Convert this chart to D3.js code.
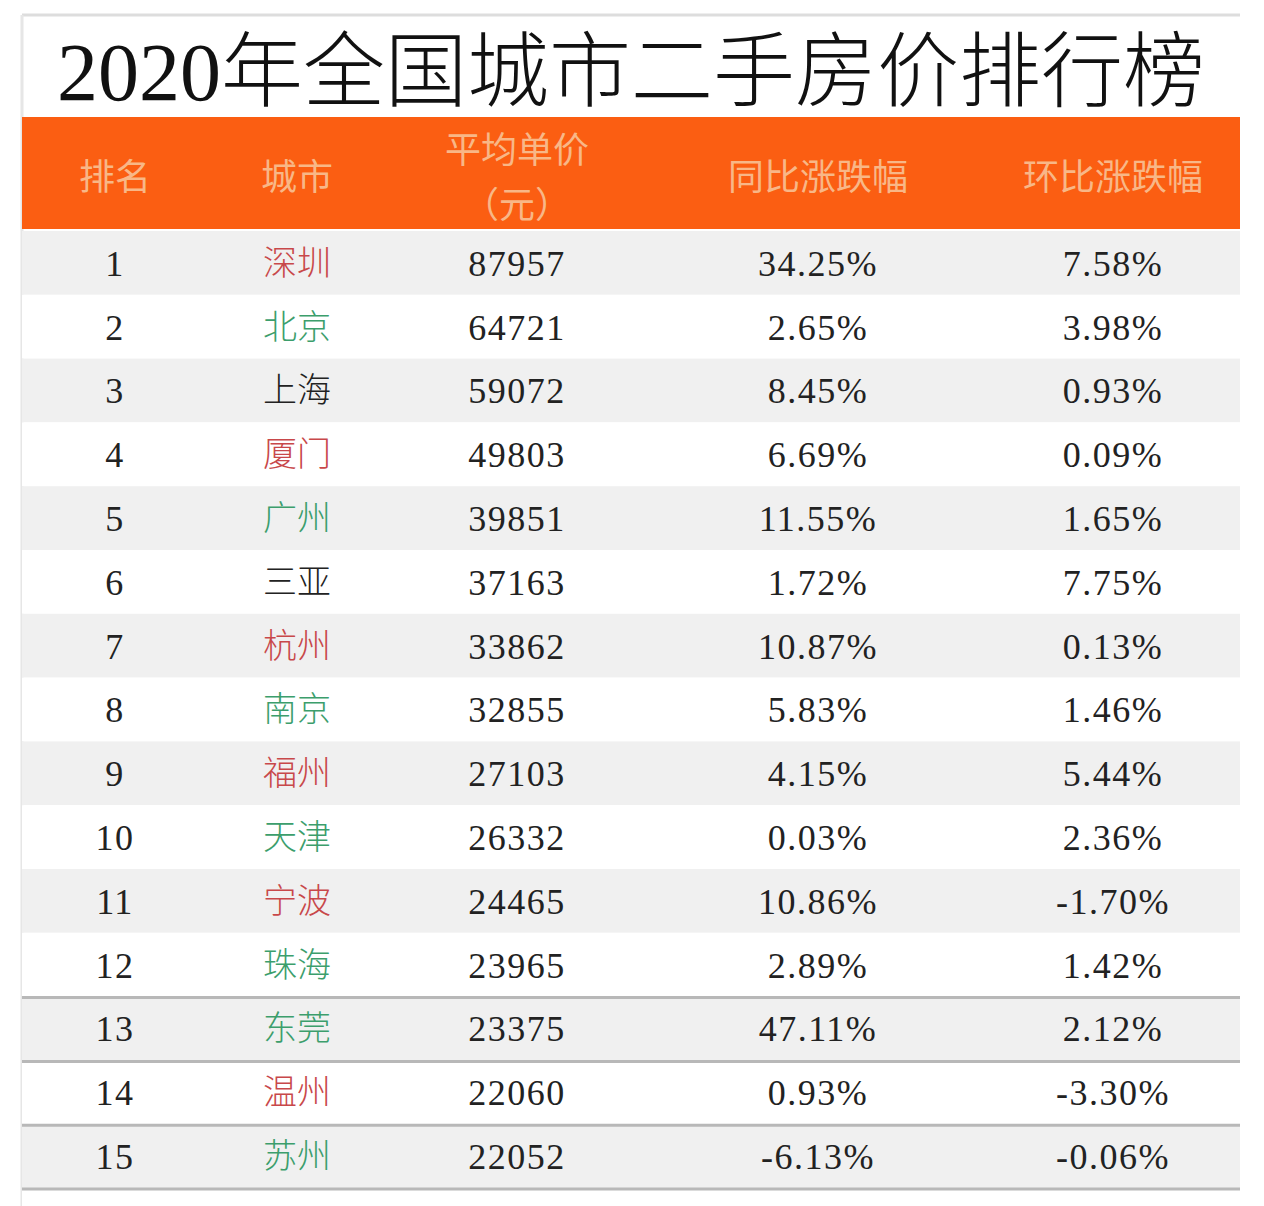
<!DOCTYPE html>
<html><head><meta charset="utf-8">
<script src="https://cdn.jsdelivr.net/npm/d3@7"></script>
<style>body{margin:0;background:#fff}</style>
</head><body>
<div id="chart"></div>
<script>
// Table data
var ranks = [1,2,3,4,5,6,7,8,9,10,11,12,13,14,15];
var cities = ["深圳","北京","上海","厦门","广州","三亚","杭州","南京","福州","天津","宁波","珠海","东莞","温州","苏州"];
var cityTone = ["r","g","k","r","g","k","r","g","r","g","r","g","g","r","g"];
var prices = [87957,64721,59072,49803,39851,37163,33862,32855,27103,26332,24465,23965,23375,22060,22052];
var yoy = ["34.25%","2.65%","8.45%","6.69%","11.55%","1.72%","10.87%","5.83%","4.15%","0.03%","10.86%","2.89%","47.11%","0.93%","-6.13%"];
var mom = ["7.58%","3.98%","0.93%","0.09%","1.65%","7.75%","0.13%","1.46%","5.44%","2.36%","-1.70%","1.42%","2.12%","-3.30%","-0.06%"];
var headers = [["排名"],["城市"],["平均单价","（元）"],["同比涨跌幅"],["环比涨跌幅"]];
var title = "2020年全国城市二手房价排行榜";

var W = 1264, H = 1206;
var left = 22, right = 1240;
var rowTop = 231, rowH = 63.8;
var colX = [115, 297, 517, 818, 1113];
var toneColor = {r:"#c8484a", g:"#3c9e6c", k:"#222"};
var serif = "'Liberation Serif','DejaVu Serif',serif";
var cjk = "'Noto Sans CJK SC',sans-serif";

var svg = d3.select("#chart").append("svg").attr("width", W).attr("height", H);

var y = d3.scaleBand().domain(d3.range(16)).range([rowTop, rowTop + rowH * 16]);

// frame
svg.append("line").attr("x1", left).attr("x2", right).attr("y1", 15).attr("y2", 15).attr("stroke", "#ddd").attr("stroke-width", 3);
svg.append("line").attr("x1", left).attr("x2", left).attr("y1", 15).attr("y2", H).attr("stroke", "#e6e6e6").attr("stroke-width", 3);

svg.append("text").attr("x", 631).attr("y", 100).attr("text-anchor", "middle")
  .attr("font-family", serif + "," + cjk).attr("font-size", 82).attr("font-weight", 300)
  .attr("fill", "#111").text(title);

// header
svg.append("rect").attr("x", left).attr("y", 117).attr("width", right - left).attr("height", 112).attr("fill", "#fb5e12");
headers.forEach(function(h, i) {
  var t = svg.append("text").attr("x", colX[i]).attr("text-anchor", "middle")
    .attr("font-family", cjk).attr("font-size", 36).attr("fill", "#f8b787");
  if (h.length == 1) t.attr("y", 190).text(h[0]);
  else {
    t.append("tspan").attr("x", colX[i]).attr("y", 163).text(h[0]);
    t.append("tspan").attr("x", colX[i]).attr("y", 218).text(h[1]);
  }
});

// rows
var rows = svg.append("g").selectAll("g").data(d3.range(16)).enter().append("g")
  .attr("transform", d => `translate(0,${y(d)})`);
rows.append("rect").attr("x", left).attr("width", right - left).attr("height", rowH)
  .attr("fill", d => d % 2 == 0 ? "#f0f0f0" : "#fff");
rows.filter(d => d >= 12).append("line").attr("x1", left).attr("x2", right)
  .attr("y1", 1).attr("y2", 1).attr("stroke", "#b8b8b8").attr("stroke-width", 3);

var data = rows.filter(d => d < 15);
function cell(i, fn, fam, col) {
  data.append("text").attr("x", colX[i]).attr("y", rowH / 2 + 13).attr("text-anchor", "middle")
    .attr("font-family", fam).attr("font-size", 36).attr("letter-spacing", 1.5)
    .attr("fill", col || "#222").text(fn);
}
cell(0, d => ranks[d], serif);
data.append("text").attr("x", colX[1]).attr("y", rowH / 2 + 12).attr("text-anchor", "middle")
  .attr("font-family", cjk).attr("font-size", 34).attr("font-weight", 300)
  .attr("fill", d => toneColor[cityTone[d]]).text(d => cities[d]);
cell(2, d => prices[d], serif);
cell(3, d => yoy[d], serif);
cell(4, d => mom[d], serif);
</script>
</body></html>
